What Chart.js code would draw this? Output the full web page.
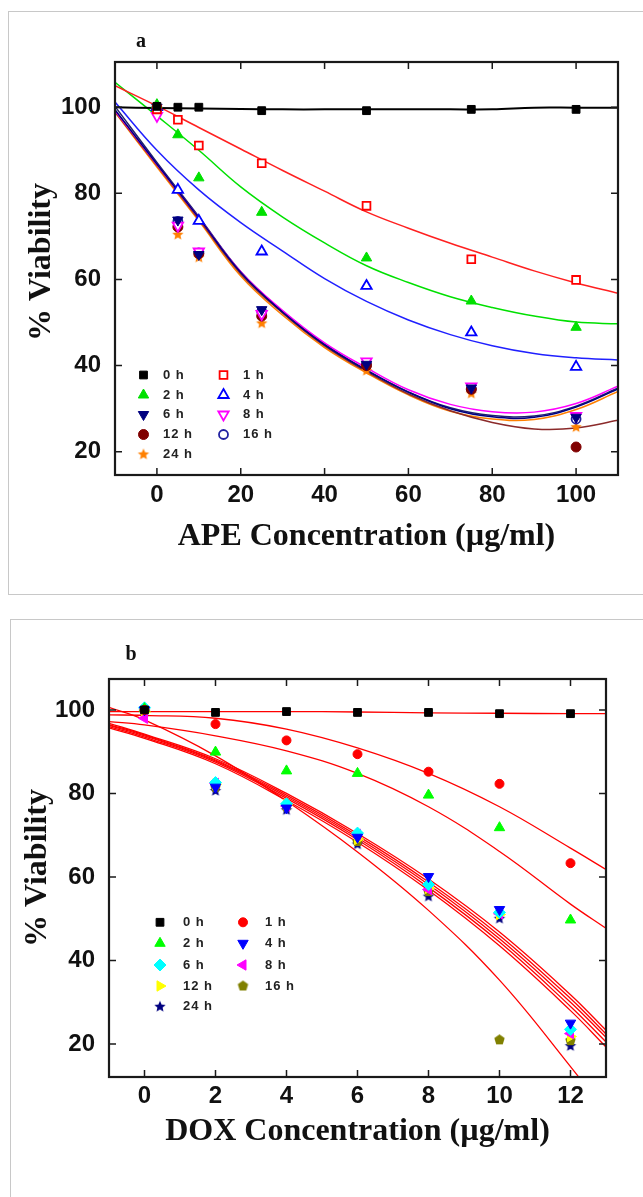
<!DOCTYPE html>
<html>
<head>
<meta charset="utf-8">
<script src="https://cdn.jsdelivr.net/npm/chart.js@4.4.1/dist/chart.umd.min.js"></script>
<style>
body { margin:0; background:#fff; width:643px; height:1197px; overflow:hidden; position:relative; }
.box { position:absolute; border:1px solid #c8c8c8; }
canvas { position:absolute; left:0; }
</style>
</head>
<body>
<div class="box" style="left:8px;top:11px;width:700px;height:582px"></div>
<div class="box" style="left:10px;top:619px;width:700px;height:700px"></div>
<canvas id="apeChart" width="643" height="600" style="top:0"></canvas>
<canvas id="doxChart" width="643" height="597" style="top:600px"></canvas>
<script>
// ---- panel a : APE ----
const apeConc = [0, 5, 10, 25, 50, 75, 100];
const ape0h  = [100.2, 100, 100, 99.2, 99.2, 99.5, 99.5];
const ape1h  = [99.5, 97.1, 91.1, 87.0, 77.1, 64.7, 59.9];
const ape2h  = [100.6, 93.6, 83.6, 75.6, 65.0, 55.0, 48.9];
const ape4h  = [100, 80.8, 73.6, 66.5, 58.5, 47.7, 39.7];
const ape6h  = [100, 73.8, 65.8, 53.0, 40.3, 34.8, 28.0];
const ape8h  = [98, 72.5, 66.5, 52.0, 41.0, 35.2, 28.3];
const ape12h = [99.5, 72.2, 66.0, 51.5, 40.0, 34.5, 21.1];
const ape16h = [100, 73.5, 66.2, 52.5, 40.5, 34.6, 27.6];
const ape24h = [99.5, 70.4, 65.1, 49.8, 38.8, 33.5, 25.7];

const apeFitX   = [-10, 0, 10, 20, 30, 40, 50, 60, 70, 80, 90, 100, 110];
const apeFit0h  = [100, 99.8, 99.7, 99.6, 99.5, 99.5, 99.5, 99.5, 99.5, 99.5, 99.9, 99.9, 99.9];
const apeFit1h  = [105, 100.3, 95.3, 90.3, 85.3, 80.5, 75.7, 71.9, 68.4, 65.2, 62.0, 59.2, 56.8];
const apeFit2h  = [105.8, 98, 90, 81.5, 74.5, 68.5, 63.2, 59.3, 56, 53.5, 51.5, 50.1, 49.7];
const apeFit4h  = [101.2, 90, 80.8, 73.2, 66.6, 60.2, 54.9, 50.6, 47.2, 44.6, 42.8, 41.8, 41.3];
const apeFit6h  = [99.4, 86.8, 74.3, 61.6, 52.4, 44.8, 38.9, 33.8, 30.0, 28.1, 28.0, 30.4, 34.6];
const apeFit8h  = [99.2, 86.7, 74.3, 61.8, 52.8, 45.3, 39.5, 34.4, 31.0, 29.3, 29.2, 31.2, 35.2];
const apeFit12h = [99.0, 86.5, 74.0, 61.3, 52.2, 44.6, 38.6, 33.4, 29.5, 26.8, 25.3, 25.5, 27.3];
const apeFit16h = [100.2, 87.2, 74.6, 61.8, 52.6, 45.0, 39.0, 33.9, 30.2, 28.4, 28.3, 30.6, 34.8];
const apeFit24h = [98.8, 86.1, 73.6, 60.8, 51.7, 44.2, 38.3, 33.2, 29.4, 27.6, 27.5, 29.8, 34.0];

const apeTicksX = [0, 20, 40, 60, 80, 100];
const apeTicksY = [20, 40, 60, 80, 100];

// ---- panel b : DOX ----
const doxConc = [0, 2, 4, 6, 8, 10, 12];
const dox0h  = [100, 99.4, 99.6, 99.4, 99.4, 99.1, 99.1];
const dox1h  = [100, 96.6, 92.7, 89.4, 85.2, 82.3, 63.3];
const dox2h  = [100.3, 89.9, 85.4, 84.8, 79.6, 71.8, 49.7];
const dox4h  = [100, 81.5, 76.5, 69.5, 60.1, 52.2, 25.0];
const dox6h  = [100.5, 82.6, 77.5, 70.5, 58.2, 51.5, 23.5];
const dox8h  = [98, 82.4, 77.0, 70.2, 57.0, 51.2, 22.5];
const dox12h = [99.5, 82.2, 77.3, 69.0, 57.3, 51.0, 21.8];
const dox16h = [99.8, 81.5, 76.8, 68.5, 56.5, 21.0, 20.8];
const dox24h = [99.6, 80.6, 76.0, 67.8, 55.3, 50.0, 19.5];

const doxFitX   = [-1, 0, 2, 4, 6, 8, 10, 12, 13];
const doxFit0h  = [99.6, 99.6, 99.6, 99.6, 99.5, 99.3, 99.2, 99.1, 99.1];
const doxFit1h  = [98.8, 98.7, 98.0, 95.4, 90.9, 84.8, 76.8, 66.9, 61.8];
const doxFit2h  = [97.2, 96.4, 93.8, 90.2, 84.8, 76.8, 66.1, 53.5, 47.7];
const doxFit4h  = [96.8, 94.2, 88.3, 80.0, 70.4, 59.5, 46.8, 31.8, 23.3];
const doxFit6h  = [96.5, 94.0, 88.0, 79.6, 69.9, 58.8, 46.0, 30.9, 22.4];
const doxFit8h  = [96.3, 93.8, 87.8, 79.2, 69.4, 58.2, 45.2, 30.0, 21.6];
const doxFit12h = [96.0, 93.5, 87.5, 78.8, 68.9, 57.5, 44.4, 29.0, 20.5];
const doxFit16h = [100.6, 97.6, 89.0, 78.2, 66.0, 52.0, 35.3, 14.6, 3.5];
const doxFit24h = [95.7, 93.2, 87.1, 78.3, 68.3, 56.8, 43.5, 28.0, 19.3];

const doxTicksX = [0, 2, 4, 6, 8, 10, 12];
const doxTicksY = [20, 40, 60, 80, 100];

function pts(xs, ys) {
  return xs.map((x, i) => ({x: x, y: ys[i]}));
}

function shapeImg(color, r, n, inner) {
  const s = Math.ceil(r * 2 + 2);
  const c = document.createElement('canvas');
  c.width = s; c.height = s;
  const g = c.getContext('2d');
  g.fillStyle = color;
  g.beginPath();
  const k = inner ? n * 2 : n;
  for (let i = 0; i < k; i++) {
    const a = -Math.PI / 2 + i * 2 * Math.PI / k;
    const rr = (inner && i % 2) ? r * inner : r;
    g.lineTo(s / 2 + rr * Math.cos(a), s / 2 + rr * Math.sin(a));
  }
  g.closePath();
  g.fill();
  return c;
}

function marks(label, xs, ys, style, color, fill, radius, rotation) {
  return {
    label: label, data: pts(xs, ys), showLine: false,
    pointStyle: style, pointRadius: radius, pointRotation: rotation || 0,
    pointBackgroundColor: fill, pointBorderColor: color,
    pointBorderWidth: fill === '#fff' ? 1.8 : 1
  };
}

function fit(xs, ys, color, w) {
  return {
    label: '', fit: true, data: pts(xs, ys), showLine: true, pointRadius: 0,
    borderColor: color, borderWidth: w || 1.5, tension: 0.4, fill: false
  };
}

const SERIF = "'Liberation Serif', 'Times New Roman', serif";
const SANS = "'Liberation Sans', Arial, sans-serif";

const decor = {
  id: 'decor',
  afterDatasetsDraw(chart, args, o) {
    const ctx = chart.ctx, a = chart.chartArea;
    const xs = chart.scales.x, ys = chart.scales.y;
    ctx.save();
    ctx.strokeStyle = '#1a1a1a';
    ctx.lineWidth = 1.5;
    ctx.beginPath();
    xs.ticks.forEach(t => {
      const p = xs.getPixelForValue(t.value);
      ctx.moveTo(p, a.bottom); ctx.lineTo(p, a.bottom - 7);
      ctx.moveTo(p, a.top); ctx.lineTo(p, a.top + 7);
    });
    ys.ticks.forEach(t => {
      const p = ys.getPixelForValue(t.value);
      ctx.moveTo(a.left, p); ctx.lineTo(a.left + 7, p);
      ctx.moveTo(a.right, p); ctx.lineTo(a.right - 7, p);
    });
    ctx.stroke();
    ctx.lineWidth = 2.2;
    ctx.strokeRect(a.left, a.top, a.right - a.left, a.bottom - a.top);

    ctx.fillStyle = '#111';
    ctx.textAlign = 'center';
    ctx.textBaseline = 'middle';
    ctx.font = 'bold 20px ' + SERIF;
    ctx.fillText(o.letter, o.letterX, o.letterY);
    ctx.font = 'bold 32px ' + SERIF;
    ctx.fillText(o.xTitle, (a.left + a.right) / 2, o.xTitleY);
    ctx.save();
    ctx.translate(o.yTitleX, o.yTitleY);
    ctx.rotate(-Math.PI / 2);
    ctx.fillText(o.yTitle, 0, 0);
    ctx.restore();

    // two-column legend
    let k = 0;
    chart.data.datasets.forEach(ds => {
      if (ds.fit) return;
      const col = k % 2, row = Math.floor(k / 2);
      const mx = o.legX[col], tx = o.legTextX[col], y = o.legY[row];
      ctx.fillStyle = ds.pointBackgroundColor;
      ctx.strokeStyle = ds.pointBorderColor;
      ctx.lineWidth = ds.pointBorderWidth;
      Chart.helpers.drawPoint(ctx, {
        pointStyle: ds.pointStyle, radius: ds.pointRadius,
        rotation: ds.pointRotation, borderWidth: ds.pointBorderWidth
      }, mx, y);
      ctx.fillStyle = '#222';
      ctx.textAlign = 'left';
      ctx.font = 'bold 13px ' + SANS;
      ctx.letterSpacing = '1px';
      ctx.fillText(ds.label, tx, y);
      ctx.letterSpacing = '0px';
      k++;
    });
    ctx.restore();
  }
};

function axes(minX, maxX, minY, maxY, tx, ty, yw, xh, ypad, xpad) {
  const font = {family: SANS, size: 24, weight: 'bold'};
  return {
    x: {
      type: 'linear', min: minX, max: maxX,
      grid: {display: false, drawTicks: false}, border: {display: false},
      ticks: {font: font, color: '#111', padding: xpad, maxRotation: 0},
      afterBuildTicks: s => { s.ticks = tx.map(v => ({value: v})); },
      afterFit: s => { s.height = xh; }
    },
    y: {
      type: 'linear', min: minY, max: maxY,
      grid: {display: false, drawTicks: false}, border: {display: false},
      ticks: {font: font, color: '#111', padding: ypad},
      afterBuildTicks: s => { s.ticks = ty.map(v => ({value: v})); },
      afterFit: s => { s.width = yw; }
    }
  };
}

const star24a = shapeImg('#ff8000', 6, 5, 0.45);
const star24b = shapeImg('#000080', 6, 5, 0.45);
const pent16b = shapeImg('#808000', 5.5, 5, 0);

new Chart(document.getElementById('apeChart'), {
  type: 'scatter',
  data: {
    datasets: [
      marks('0 h', apeConc, ape0h, 'rect', '#000', '#000', 5.5),
      marks('1 h', apeConc, ape1h, 'rect', '#ff0000', '#fff', 5.5),
      marks('2 h', apeConc, ape2h, 'triangle', '#00e000', '#00e000', 6),
      marks('4 h', apeConc, ape4h, 'triangle', '#0000ff', '#fff', 6),
      marks('6 h', apeConc, ape6h, 'triangle', '#000080', '#000080', 6, 180),
      marks('8 h', apeConc, ape8h, 'triangle', '#ff00ff', '#fff', 6, 180),
      marks('12 h', apeConc, ape12h, 'circle', '#800000', '#800000', 5),
      marks('16 h', apeConc, ape16h, 'circle', '#2020a0', '#fff', 4.5),
      marks('24 h', apeConc, ape24h, star24a, '#ff8000', '#ff8000', 6),
      fit(apeFitX, apeFit0h, '#000', 2),
      fit(apeFitX, apeFit1h, '#ff2020'),
      fit(apeFitX, apeFit2h, '#00e000'),
      fit(apeFitX, apeFit4h, '#2020ff'),
      fit(apeFitX, apeFit6h, '#000080'),
      fit(apeFitX, apeFit8h, '#ff00ff'),
      fit(apeFitX, apeFit12h, '#8b2a2a'),
      fit(apeFitX, apeFit16h, '#202070'),
      fit(apeFitX, apeFit24h, '#ff8000')
    ]
  },
  options: {
    responsive: false, animation: false, events: [],
    layout: {padding: {left: 0, top: 62, right: 25, bottom: 0}},
    scales: axes(-10, 110, 14.6, 110.5, apeTicksX, apeTicksY, 115, 125, 14, 6),
    plugins: {
      legend: {display: false}, tooltip: {enabled: false},
      decor: {
        letter: 'a', letterX: 141, letterY: 42,
        xTitle: 'APE Concentration (\u00b5g/ml)', xTitleY: 537,
        yTitle: '% Viability', yTitleX: 42, yTitleY: 262,
        legX: [143.5, 223.5], legTextX: [163, 243],
        legY: [375, 395, 414.5, 434.5, 454.5]
      }
    }
  },
  plugins: [decor]
});

new Chart(document.getElementById('doxChart'), {
  type: 'scatter',
  data: {
    datasets: [
      marks('0 h', doxConc, dox0h, 'rect', '#000', '#000', 5.5),
      marks('1 h', doxConc, dox1h, 'circle', '#ff0000', '#ff0000', 4.5),
      marks('2 h', doxConc, dox2h, 'triangle', '#00ff00', '#00ff00', 6),
      marks('4 h', doxConc, dox4h, 'triangle', '#0000ff', '#0000ff', 6, 180),
      marks('6 h', doxConc, dox6h, 'rectRot', '#00ffff', '#00ffff', 6),
      marks('8 h', doxConc, dox8h, 'triangle', '#ff00ff', '#ff00ff', 6, -90),
      marks('12 h', doxConc, dox12h, 'triangle', '#ffff00', '#ffff00', 6, 90),
      marks('16 h', doxConc, dox16h, pent16b, '#808000', '#808000', 6),
      marks('24 h', doxConc, dox24h, star24b, '#000080', '#000080', 6),
      fit(doxFitX, doxFit0h, '#ff0000', 1.3),
      fit(doxFitX, doxFit1h, '#ff0000', 1.3),
      fit(doxFitX, doxFit2h, '#ff0000', 1.3),
      fit(doxFitX, doxFit4h, '#ff0000', 1.3),
      fit(doxFitX, doxFit6h, '#ff0000', 1.3),
      fit(doxFitX, doxFit8h, '#ff0000', 1.3),
      fit(doxFitX, doxFit12h, '#ff0000', 1.3),
      fit(doxFitX, doxFit16h, '#ff0000', 1.3),
      fit(doxFitX, doxFit24h, '#ff0000', 1.3)
    ]
  },
  options: {
    responsive: false, animation: false, events: [],
    layout: {padding: {left: 0, top: 79, right: 37, bottom: 0}},
    scales: axes(-1, 13, 12.1, 107.4, doxTicksX, doxTicksY, 109, 120, 14, 5),
    plugins: {
      legend: {display: false}, tooltip: {enabled: false},
      decor: {
        letter: 'b', letterX: 131, letterY: 55,
        xTitle: 'DOX Concentration (\u00b5g/ml)', xTitleY: 532,
        yTitle: '% Viability', yTitleX: 38, yTitleY: 268,
        legX: [160, 243], legTextX: [183, 265],
        legY: [322.3, 343.3, 365, 386, 406.7]
      }
    }
  },
  plugins: [decor]
});
</script>
</body>
</html>
